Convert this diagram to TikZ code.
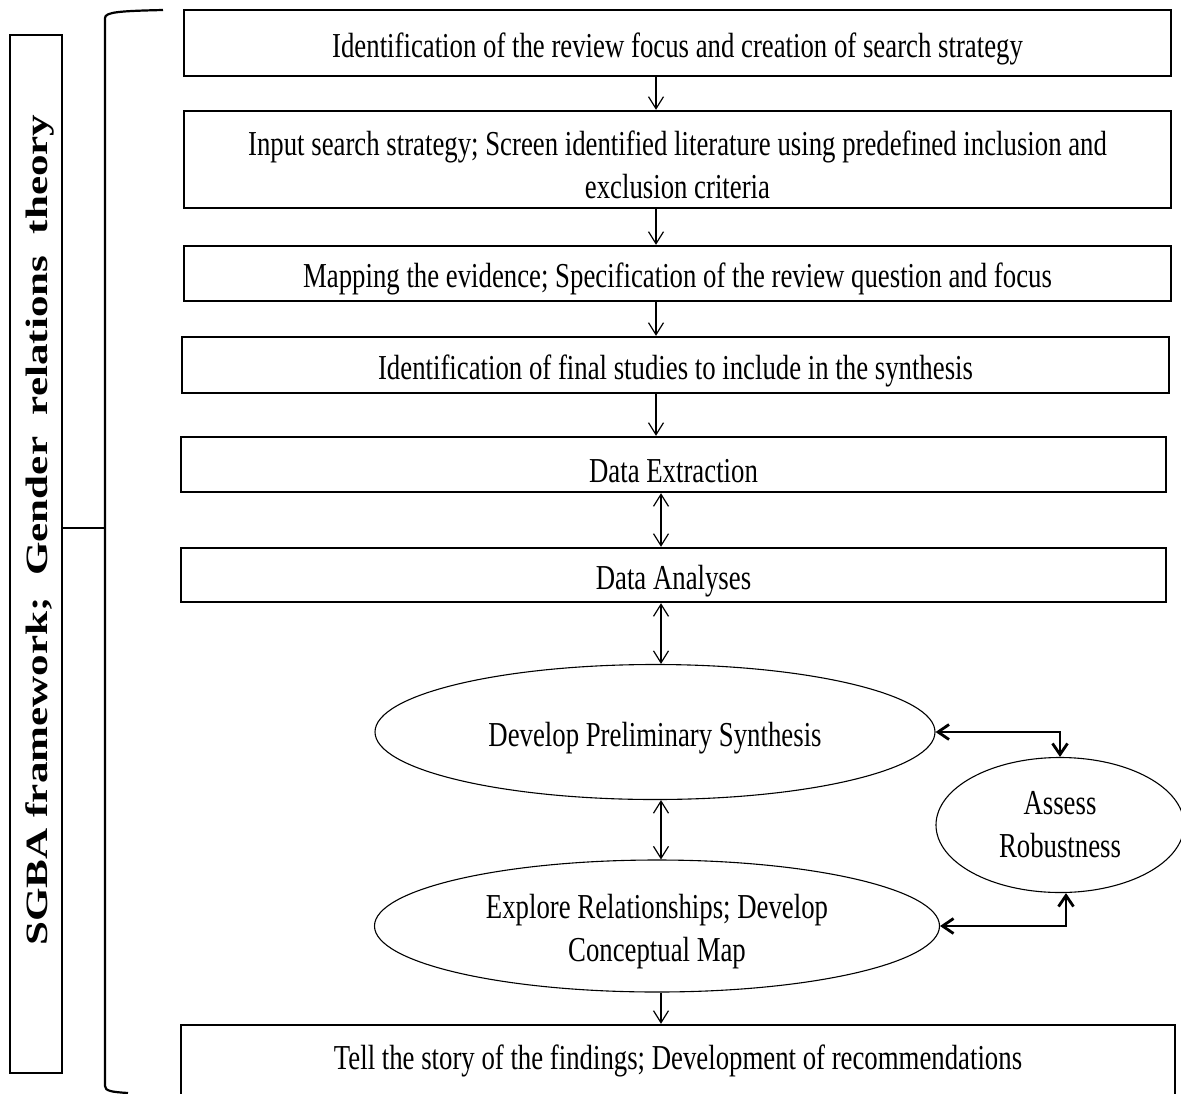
\documentclass[tikz,border=0pt]{standalone}
\usepackage{fontspec}
\setmainfont{Liberation Serif}
\newfontfamily\condfont[FakeStretch=0.765]{Liberation Serif}
\newfontfamily\sidefont[FakeStretch=1.39]{Liberation Serif}
\usetikzlibrary{arrows.meta,shapes.geometric}
\newcommand{\pushdn}{\rule{0pt}{36pt}}
\begin{document}
\begin{tikzpicture}[x=1pt,y=-1pt,
  txt/.style={font=\condfont\fontsize{35}{43}\selectfont, align=center},
  box/.style={txt, draw, line width=2.4pt, rectangle, inner sep=0pt},
  ell/.style={txt, draw, line width=1.1pt, ellipse, inner sep=0pt},
  arr/.style={line width=1.2pt, -{Straight Barb[length=12pt,width=15pt]}},
  darr/.style={line width=1.2pt, {Straight Barb[length=12pt,width=15pt]}-{Straight Barb[length=12pt,width=15pt]}},
  tarr/.style={line width=2.8pt, {Straight Barb[length=11pt,width=15pt]}-{Straight Barb[length=11pt,width=15pt]}},
  brk/.style={line width=2.2pt}]
\useasboundingbox (0,0) rectangle (1181,1093);
\clip (0,0) rectangle (1181,1093);

% main column boxes
\node[box, minimum width=987, minimum height=66] (b1) at (677.5,43)
  {\pushdn Identification of the review focus and creation of search strategy};
\node[box, minimum width=987, minimum height=97] (b2) at (677.5,159.5)
  {\pushdn Input search strategy; Screen identified literature using predefined inclusion and\\exclusion criteria};
\node[box, minimum width=987, minimum height=55] (b3) at (677.5,273.5)
  {\pushdn Mapping the evidence; Specification of the review question and focus};
\node[box, minimum width=987, minimum height=56] (b4) at (675.5,365)
  {\pushdn Identification of final studies to include in the synthesis};
\node[box, minimum width=985, minimum height=55] (b5) at (673.5,464.5)
  {\pushdn Data Extraction};
\node[box, minimum width=985, minimum height=54] (b6) at (673.5,575)
  {\pushdn Data Analyses};
\node[ell, minimum width=560, minimum height=135] (e1) at (655,732)
  {\pushdn Develop Preliminary Synthesis};
\node[ell, minimum width=565, minimum height=132] (e2) at (657,926)
  {\pushdn Explore Relationships; Develop\\Conceptual Map};
\node[ell, minimum width=248, minimum height=135] (as) at (1060,825)
  {Assess\\Robustness};
\node[box, minimum width=994, minimum height=72] (b7) at (678,1061)
  {Tell the story of the findings; Development of recommendations};

% arrows
\coordinate (xa) at (656,0);
\coordinate (xb) at (661,0);
\draw[arr] (b1.south -| xa) -- (b2.north -| xa);
\draw[arr] (b2.south -| xa) -- (b3.north -| xa);
\draw[arr] (b3.south -| xa) -- (b4.north -| xa);
\draw[arr] (b4.south -| xa) -- (b5.north -| xa);
\draw[darr] (b5.south -| xb) -- (b6.north -| xb);
\draw[darr] (b6.south -| xb) -- (e1.north -| xb);
\draw[darr] (e1.south -| xb) -- (e2.north -| xb);
\draw[arr] (e2.south -| xb) -- (b7.north -| xb);
\draw[tarr] (e1.east) -| (as.north);
\draw[tarr] (e2.east) -| ([xshift=6pt]as.south);

% left framework box and bracket
\node[draw, line width=2.4pt, rectangle, minimum width=52, minimum height=1038, inner sep=0pt] (side) at (36,554) {};
\node[rotate=90, font=\sidefont\bfseries\fontsize{31}{36}\selectfont] (sidetxt) at (40,530)
  {SGBA framework;\ \ Gender\ \ relations\ \ theory};
\coordinate (bj) at (105,528);
\draw[brk] (side.east |- bj) -- (bj);
\draw[brk] (163,10) .. controls (120,11) and (105,12) .. (105,18) -- (105,1086)
  .. controls (105,1091) and (112,1092) .. (128,1093);
\end{tikzpicture}
\end{document}
